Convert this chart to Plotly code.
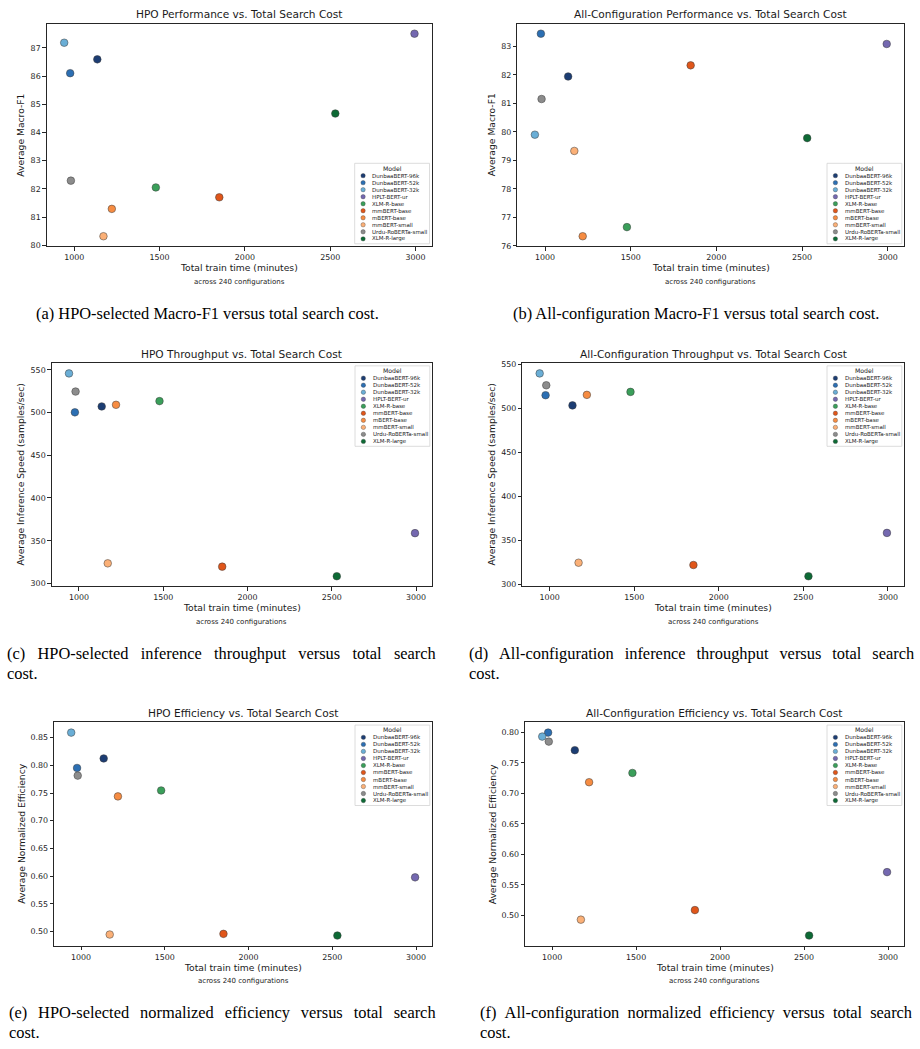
import plotly.graph_objects as go

W, H = 920, 1049

models = ["DunbaaBERT-96k", "DunbaaBERT-52k", "DunbaaBERT-32k", "HPLT-BERT-ur", "XLM-R-base",
          "mmBERT-base", "mBERT-base", "mmBERT-small", "Urdu-RoBERTa-small", "XLM-R-large"]
colors = ["#1c3d73", "#2c6fb3", "#6aaed6", "#7468b0", "#3a9f5a",
          "#e0561a", "#f68c42", "#fbb077", "#8c8c8c", "#0d6a35"]
train_time = [1135, 976, 941, 2994, 1478, 1850, 1220, 1171, 980, 2530]

hpo_f1 = [86.59, 86.10, 87.18, 87.50, 82.05, 81.70, 81.29, 80.32, 82.29, 84.67]
all_f1 = [81.94, 83.44, 79.90, 83.08, 76.66, 82.33, 76.34, 79.33, 81.15, 79.78]
hpo_tp = [507.1, 500.2, 545.7, 358.9, 513.3, 319.7, 509.0, 323.6, 524.5, 308.5]
all_tp = [503.4, 515.0, 539.8, 358.3, 518.8, 321.8, 515.4, 324.4, 526.3, 309.0]
hpo_eff = [0.8124, 0.7952, 0.859, 0.5978, 0.7546, 0.4958, 0.7439, 0.4946, 0.7814, 0.4928]
all_eff = [0.7707, 0.7995, 0.793, 0.5709, 0.7334, 0.5087, 0.7182, 0.493, 0.7848, 0.467]

x_ticks = [1000, 1500, 2000, 2500, 3000]
f1_ticks_hpo = [80, 81, 82, 83, 84, 85, 86, 87]
f1_ticks_all = [76, 77, 78, 79, 80, 81, 82, 83]
tp_ticks = [300, 350, 400, 450, 500, 550]
eff_ticks_hpo = [0.50, 0.55, 0.60, 0.65, 0.70, 0.75, 0.80, 0.85]
eff_ticks_all = [0.50, 0.55, 0.60, 0.65, 0.70, 0.75, 0.80]

EN = "\u2002"
QS = "\u2005"
SS = "\u2006"

rows = [
    dict(top=20.7, bottom=245.0, title_y=11.0, xl_y=266.7, sub_y=281.0, cap_y=[312.7]),
    dict(top=362.7, bottom=587.3, title_y=353.3, xl_y=608.7, sub_y=623.0, cap_y=[655.0, 675.0]),
    dict(top=724.3, bottom=949.0, title_y=715.0, xl_y=970.7, sub_y=985.0, cap_y=[1016.0, 1036.7]),
]

panels = [
    dict(row=0, x0=46.7, x1=432.0, ylab_x=20.7, y=hpo_f1, ticks=f1_ticks_hpo, fmt="d",
         title="HPO Performance vs. Total Search Cost", ylabel="Average Macro-F1", leg="br",
         cap=["(a) HPO-selected Macro-F1 versus total search cost."], cap_x=207.7, cap_anchor="center"),
    dict(row=0, x0=517.3, x1=904.3, ylab_x=492.3, y=all_f1, ticks=f1_ticks_all, fmt="d",
         title="All-Configuration Performance vs. Total Search Cost", ylabel="Average Macro-F1", leg="br",
         cap=["(b) All-configuration Macro-F1 versus total search cost."], cap_x=696.0, cap_anchor="center"),
    dict(row=1, x0=51.7, x1=432.3, ylab_x=20.7, y=hpo_tp, ticks=tp_ticks, fmt="d",
         title="HPO Throughput vs. Total Search Cost", ylabel="Average Inference Speed (samples/sec)", leg="tr",
         cap=[("(c) HPO-selected inference throughput versus total search").replace(" ", " " + EN), "cost."],
         cap_x=5.0, cap_anchor="left"),
    dict(row=1, x0=522.3, x1=904.3, ylab_x=491.7, y=all_tp, ticks=tp_ticks, fmt="d",
         title="All-Configuration Throughput vs. Total Search Cost", ylabel="Average Inference Speed (samples/sec)", leg="tr",
         cap=[("(d) All-configuration inference throughput versus total search").replace(" ", " " + QS + SS), "cost."],
         cap_x=467.0, cap_anchor="left"),
    dict(row=2, x0=54.0, x1=432.3, ylab_x=20.7, y=hpo_eff, ticks=eff_ticks_hpo, fmt=".2f",
         title="HPO Efficiency vs. Total Search Cost", ylabel="Average Normalized Efficiency", leg="tr",
         cap=[("(e) HPO-selected normalized efficiency versus total search").replace(" ", " " + QS + SS), "cost."],
         cap_x=6.7, cap_anchor="left"),
    dict(row=2, x0=525.0, x1=904.3, ylab_x=492.3, y=all_eff, ticks=eff_ticks_all, fmt=".2f",
         title="All-Configuration Efficiency vs. Total Search Cost", ylabel="Average Normalized Efficiency", leg="tr",
         cap=[("(f) All-configuration normalized efficiency versus total search").replace(" ", " " + QS), "cost."],
         cap_x=478.3, cap_anchor="left"),
]

TXT = "#1a1a1a"
SANS = "DejaVu Sans"
SERIF = "Liberation Serif"


def px(xp):
    return xp / W


def py(yp):
    return 1 - yp / H


def pad_range(vals):
    lo, hi = min(vals), max(vals)
    span = hi - lo
    return [lo - 0.05 * span, hi + 0.05 * span]


fig = go.Figure()
layout = {}
annotations = []
shapes = []

xr = pad_range(train_time)

for i, p in enumerate(panels, start=1):
    r = rows[p["row"]]
    sfx = "" if i == 1 else str(i)
    xa, ya = "x" + sfx, "y" + sfx
    fig.add_trace(go.Scatter(
        x=train_time, y=p["y"], mode="markers", xaxis=xa, yaxis=ya, showlegend=False,
        text=models, cliponaxis=False,
        marker=dict(size=7.6, color=colors, line=dict(width=0.5, color="#3a3a3a")),
    ))
    axis_common = dict(showline=True, mirror=True, linecolor="#262626", linewidth=0.9,
                       ticks="outside", ticklen=3.5, tickwidth=0.8, tickcolor="#262626",
                       showgrid=False, zeroline=False,
                       tickfont=dict(family=SANS, size=7.9, color=TXT))
    layout["xaxis" + sfx] = dict(axis_common, domain=[px(p["x0"]), px(p["x1"])], anchor=ya,
                                 range=xr, tickvals=x_ticks, ticktext=[str(t) for t in x_ticks])
    if p["fmt"] == "d":
        ttext = [str(t) for t in p["ticks"]]
    else:
        ttext = ["%.2f" % t for t in p["ticks"]]
    layout["yaxis" + sfx] = dict(axis_common, domain=[py(r["bottom"]), py(r["top"])], anchor=xa,
                                 range=pad_range(p["y"]), tickvals=p["ticks"], ticktext=ttext)

    cx = (p["x0"] + p["x1"]) / 2
    cy = (r["top"] + r["bottom"]) / 2
    annotations.append(dict(text=p["title"], x=px(cx), y=py(r["title_y"]), xref="paper", yref="paper",
                            xanchor="center", yanchor="middle", showarrow=False,
                            font=dict(family=SANS, size=10.6, color=TXT)))
    annotations.append(dict(text="Total train time (minutes)", x=px(cx), y=py(r["xl_y"]), xref="paper",
                            yref="paper", xanchor="center", yanchor="middle", showarrow=False,
                            font=dict(family=SANS, size=9.2, color=TXT)))
    annotations.append(dict(text="across 240 configurations", x=px(cx), y=py(r["sub_y"]), xref="paper",
                            yref="paper", xanchor="center", yanchor="middle", showarrow=False,
                            font=dict(family=SANS, size=7.0, color=TXT)))
    annotations.append(dict(text=p["ylabel"], x=px(p["ylab_x"]), y=py(cy), xref="paper", yref="paper",
                            xanchor="center", yanchor="middle", textangle=-90, showarrow=False,
                            font=dict(family=SANS, size=9.2, color=TXT)))
    for line, yy in zip(p["cap"], r["cap_y"]):
        anc = p["cap_anchor"] if len(p["cap"]) == 1 else "left"
        annotations.append(dict(text=line, x=px(p["cap_x"]), y=py(yy), xref="paper", yref="paper",
                                xanchor=anc, yanchor="middle", showarrow=False,
                                font=dict(family=SERIF, size=16.4, color="#000000")))

    # custom legend (matplotlib style)
    bw, bh = 74.8, 81.0
    bx1 = p["x1"] - 2.5
    bx0 = bx1 - bw
    if p["leg"] == "br":
        by1 = r["bottom"] - 2.6
        by0 = by1 - bh
    else:
        by0 = r["top"] + 2.6
        by1 = by0 + bh
    shapes.append(dict(type="rect", xref="paper", yref="paper", x0=px(bx0), x1=px(bx1),
                       y0=py(by1), y1=py(by0), line=dict(color="#d3d3d3", width=0.8),
                       fillcolor="rgba(255,255,255,0.85)", layer="above"))
    annotations.append(dict(text="Model", x=px((bx0 + bx1) / 2), y=py(by0 + 4.8), xref="paper", yref="paper",
                            xanchor="center", yanchor="middle", showarrow=False,
                            font=dict(family=SANS, size=6.2, color=TXT)))
    for k, (m, c) in enumerate(zip(models, colors)):
        ey = by0 + 12.4 + 7.07 * k
        mx = bx0 + 8.4
        shapes.append(dict(type="circle", xref="paper", yref="paper", xsizemode="pixel", ysizemode="pixel",
                           xanchor=px(mx), yanchor=py(ey), x0=-2.2, x1=2.2, y0=-2.2, y1=2.2,
                           fillcolor=c, line=dict(color="#3a3a3a", width=0.35), layer="above"))
        annotations.append(dict(text=m, x=px(bx0 + 15.6), y=py(ey), xref="paper", yref="paper",
                                xanchor="left", yanchor="middle", showarrow=False,
                                font=dict(family=SANS, size=5.5, color=TXT)))

fig.update_layout(width=W, height=H, autosize=False, margin=dict(l=0, r=0, t=0, b=0),
                  paper_bgcolor="white", plot_bgcolor="white", showlegend=False,
                  annotations=annotations, shapes=shapes, **layout)

fig.write_html("out.html")
